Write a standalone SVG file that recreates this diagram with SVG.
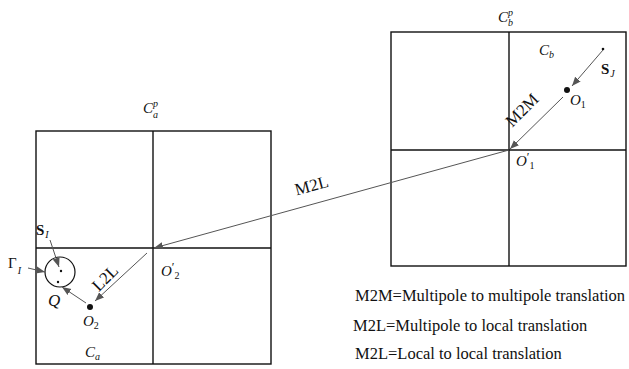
<svg xmlns="http://www.w3.org/2000/svg" width="629" height="369" viewBox="0 0 629 369">
<style>
.box{fill:none;stroke:#111;stroke-width:1.4}
.arr{fill:none;stroke:#555;stroke-width:1}
text{font-family:"Liberation Serif","Times New Roman",serif;fill:#111}
.i{font-style:italic}
.n{font-style:normal}
.lbl{font-size:15px}
.big{font-size:17px}
.sub{font-size:10px}
.pr{font-size:12px;font-style:normal}
.leg{font-size:16.5px}
.dot{fill:#111}
</style>
<defs>
<marker id="ah" viewBox="0 0 10 10" refX="10" refY="5" markerWidth="9" markerHeight="9" markerUnits="userSpaceOnUse" orient="auto">
<path d="M0,1 L10,5 L0,9 Z" fill="#555"/>
</marker>
</defs>
<rect width="629" height="369" fill="#fff"/>

<g id="box-b">
<rect class="box" x="391" y="32" width="235" height="234"/>
<line class="box" x1="509" y1="32" x2="509" y2="266"/>
<line class="box" x1="391" y1="150" x2="626" y2="150"/>
<text class="i lbl" x="498" y="22">C<tspan class="sub" dy="-6">p</tspan><tspan class="sub" dx="-5" dy="10">b</tspan></text>
<text class="i lbl" x="539" y="55">C<tspan class="sub" dy="3">b</tspan></text>
<circle class="dot" cx="603" cy="49" r="1.3"/>
<text class="lbl" x="601" y="74" font-weight="bold">S<tspan class="sub i" font-weight="normal" dx="1" dy="3">J</tspan></text>
<circle class="dot" cx="567" cy="90" r="3"/>
<text class="i lbl" x="570" y="105">O<tspan class="sub n" dy="3">1</tspan></text>
<text class="i lbl" x="516" y="166">O<tspan class="pr" dy="-5">′</tspan><tspan class="sub n" dy="8">1</tspan></text>
</g>

<g id="box-a">
<rect class="box" x="36" y="131" width="235" height="233"/>
<line class="box" x1="153" y1="131" x2="153" y2="364"/>
<line class="box" x1="36" y1="248" x2="271" y2="248"/>
<text class="i lbl" x="143" y="113">C<tspan class="sub" dy="-6">p</tspan><tspan class="sub" dx="-5" dy="11">a</tspan></text>
<text class="i lbl" x="85" y="357">C<tspan class="sub" dy="3">a</tspan></text>
<text class="lbl" x="36" y="235" font-weight="bold">S<tspan class="sub i" font-weight="normal" dx="1" dy="3">I</tspan></text>
<circle cx="60" cy="272" r="15" fill="none" stroke="#111" stroke-width="1.2"/>
<circle class="dot" cx="61" cy="271" r="1.2"/>
<circle class="dot" cx="58" cy="282" r="1.2"/>
<text class="lbl" x="8" y="268">Γ<tspan class="sub i" dx="1" dy="6">I</tspan></text>
<text class="i big" x="48" y="306">Q</text>
<circle class="dot" cx="90" cy="307" r="3"/>
<text class="i lbl" x="83" y="326">O<tspan class="sub n" dy="3">2</tspan></text>
<text class="i lbl" x="161" y="276">O<tspan class="pr" dy="-5">′</tspan><tspan class="sub n" dy="8">2</tspan></text>
</g>

<g id="connectors">
<line class="arr" x1="603" y1="50" x2="572" y2="86" marker-end="url(#ah)"/>
<line class="arr" x1="563" y1="97" x2="510" y2="149" marker-end="url(#ah)"/>
<line class="arr" x1="509" y1="150" x2="154" y2="248" marker-end="url(#ah)"/>
<line class="arr" x1="147" y1="253" x2="95" y2="301" marker-end="url(#ah)"/>
<line class="arr" x1="86" y1="303" x2="62" y2="287" marker-end="url(#ah)"/>
<line class="arr" x1="50" y1="240" x2="59" y2="267" marker-end="url(#ah)"/>
<line class="arr" x1="28" y1="268" x2="45" y2="272" marker-end="url(#ah)"/>
<text class="big" transform="translate(526,114) rotate(-45)" text-anchor="middle">M2M</text>
<text class="big" transform="translate(313,191) rotate(-15)" text-anchor="middle">M2L</text>
<text class="big" transform="translate(109,282) rotate(-45)" text-anchor="middle">L2L</text>
</g>

<g id="legend">
<text class="leg" x="355" y="301">M2M=Multipole to multipole translation</text>
<text class="leg" x="353" y="331">M2L=Multipole to local translation</text>
<text class="leg" x="355" y="359">M2L=Local to local translation</text>
</g>
</svg>
